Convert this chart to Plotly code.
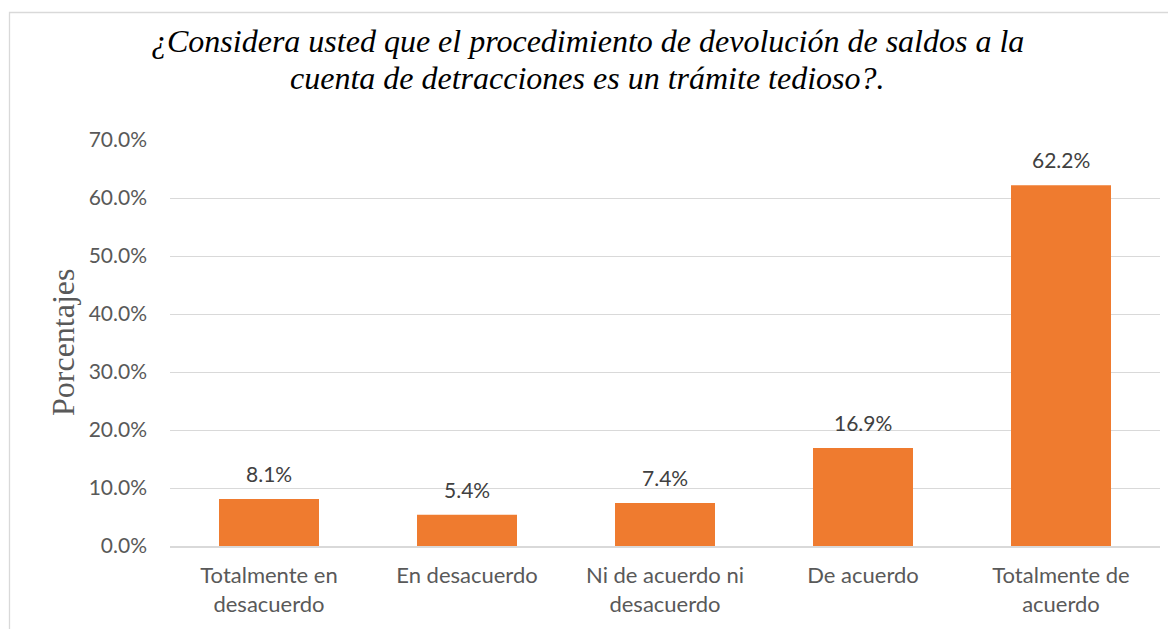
import plotly.graph_objects as go

categories = ["Totalmente en<br>desacuerdo", "En desacuerdo", "Ni de acuerdo ni<br>desacuerdo",
              "De acuerdo", "Totalmente de<br>acuerdo"]
values = [8.1, 5.4, 7.4, 16.9, 62.2]
tick_vals = [0, 10, 20, 30, 40, 50, 60, 70]
tick_text = ["0.0%", "10.0%", "20.0%", "30.0%", "40.0%", "50.0%", "60.0%", "70.0%"]
title_lines = ["¿Considera usted que el procedimiento de devolución de saldos a la",
               "cuenta de detracciones es un trámite tedioso?."]

# page is rendered with an 8px body margin
OFF = 8
W, H = 1168, 621
ML, MR, MT, MB = 162, 16, 132, 83
pw, ph = W - ML - MR, H - MT - MB


def px(xp):  # page x -> paper
    return (xp - OFF - ML) / pw


def py(yp):  # page y -> paper
    return (H - MB - (yp - OFF)) / ph


fig = go.Figure()
fig.add_trace(go.Bar(
    x=categories, y=values,
    marker=dict(color="#EF7B2F", line=dict(width=0)),
    hoverinfo="skip",
))

for c, v in zip(categories, values):
    fig.add_annotation(x=c, y=v, text=f"{v:.1f}%", showarrow=False,
                       yanchor="bottom", yshift=11,
                       font=dict(family="Lato", size=21, color="#404040"))

# y-axis title
fig.add_annotation(xref="paper", yref="paper", x=px(63), y=py(342),
                   text="Porcentajes", textangle=-90, showarrow=False,
                   xanchor="center", yanchor="middle",
                   font=dict(family="Liberation Serif", size=32, color="#595959"))

# chart title (two lines)
for line, yc in zip(title_lines, [41, 78]):
    fig.add_annotation(xref="paper", yref="paper", x=px(587), y=py(yc),
                       text="<i>" + line + "</i>", showarrow=False,
                       xanchor="center", yanchor="middle",
                       font=dict(family="Liberation Serif", size=32, color="#000000"))

# chart area border
fig.add_shape(type="rect", xref="paper", yref="paper",
              x0=px(9.5), x1=px(1200), y0=py(700), y1=py(12.5),
              line=dict(color="#D9D9D9", width=1.3), fillcolor="rgba(0,0,0,0)", layer="below")

fig.update_layout(
    width=W, height=H,
    margin=dict(l=ML, r=MR, t=MT, b=MB, pad=0),
    paper_bgcolor="white", plot_bgcolor="white",
    bargap=0.495,
    showlegend=False,
    xaxis=dict(showgrid=False, showline=True, linecolor="#D9D9D9", linewidth=1.5,
               ticks="", tickfont=dict(family="Lato", size=22, color="#595959"),
               ticklabelstandoff=9, fixedrange=True),
    yaxis=dict(range=[0, 70], tickvals=tick_vals, ticktext=tick_text,
               showgrid=True, gridcolor="#D9D9D9", gridwidth=1.3,
               zeroline=False, showline=False, ticks="",
               tickfont=dict(family="Lato", size=21, color="#595959"),
               ticklabelstandoff=22, fixedrange=True),
)

fig.write_html("out.html")
